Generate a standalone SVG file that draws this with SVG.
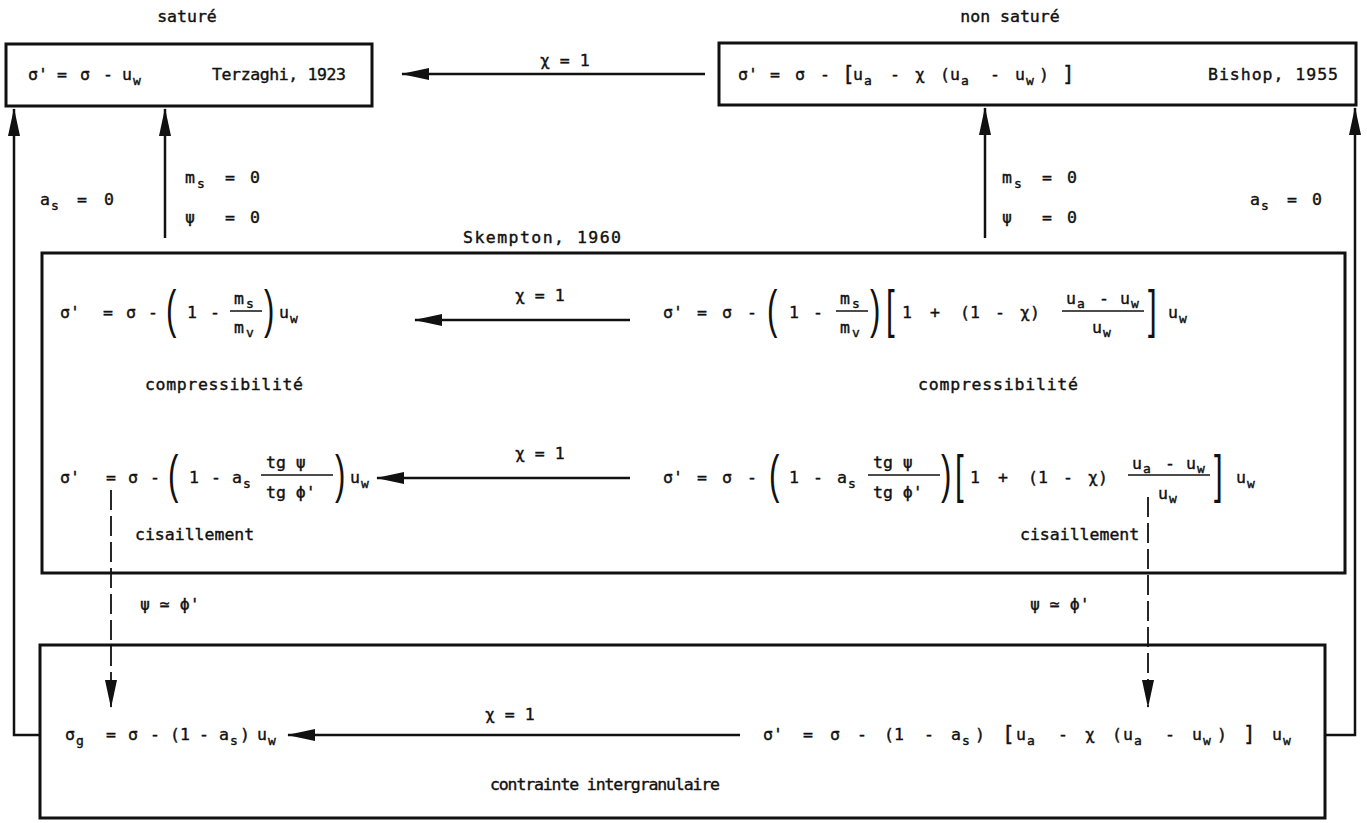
<svg xmlns="http://www.w3.org/2000/svg" width="1367" height="823" viewBox="0 0 1367 823">
<defs>
<style>
.t{font-family:"DejaVu Sans Mono","Liberation Mono",monospace;font-size:16.5px;fill:#111;stroke:#111;stroke-width:0.4}
.sb{font-size:13px}
.big{font-family:"Liberation Sans","DejaVu Sans",sans-serif;font-size:52px;fill:#111}
.br{font-size:21px}
.box{fill:none;stroke:#111;stroke-width:3}
.ln{fill:none;stroke:#111;stroke-width:2.5}
.ds{fill:none;stroke:#111;stroke-width:1.8;stroke-dasharray:20 6}
.bar{stroke:#111;stroke-width:1.5}
</style>
<marker id="ah" viewBox="0 0 28 12" refX="27" refY="6" markerWidth="28" markerHeight="12" markerUnits="userSpaceOnUse" orient="auto"><path d="M0,0 L28,6 L0,12 Z" fill="#111"/></marker>
</defs>
<rect width="1367" height="823" fill="#fff"/>

<g id="titles">
<text class="t" x="187" y="22" text-anchor="middle">saturé</text>
<text class="t" x="1010" y="22" text-anchor="middle">non saturé</text>
</g>

<g id="terzaghi">
<rect class="box" x="6" y="44" width="366" height="62"/>
<text class="t"><tspan x="28" y="80">σ'</tspan><tspan x="57" y="80">=</tspan><tspan x="80" y="80">σ</tspan><tspan x="103" y="80">-</tspan><tspan x="122" y="80">u</tspan><tspan class="sb" x="133" y="85">w</tspan></text>
<text class="t" x="212" y="80" textLength="134" lengthAdjust="spacing">Terzaghi, 1923</text>
</g>

<g id="bishop">
<rect class="box" x="719" y="43" width="637" height="62"/>
<text class="t"><tspan x="738" y="80">σ'</tspan><tspan x="770" y="80">=</tspan><tspan x="795" y="80">σ</tspan><tspan x="820" y="80">-</tspan><tspan class="br" x="842" y="81">[</tspan><tspan x="853" y="80">u</tspan><tspan class="sb" x="864" y="85">a</tspan><tspan x="890" y="80">-</tspan><tspan x="915" y="80">χ</tspan><tspan x="940" y="80">(</tspan><tspan x="950" y="80">u</tspan><tspan class="sb" x="961" y="85">a</tspan><tspan x="990" y="80">-</tspan><tspan x="1015" y="80">u</tspan><tspan class="sb" x="1026" y="85">w</tspan><tspan x="1039" y="80">)</tspan><tspan class="br" x="1062" y="81">]</tspan></text>
<text class="t" x="1208" y="80" textLength="130" lengthAdjust="spacing">Bishop, 1955</text>
</g>

<g id="connectors">
<path class="ln" d="M705,74 H402" marker-end="url(#ah)"/>
<path class="ln" d="M40,735 H14 V109" marker-end="url(#ah)"/>
<path class="ln" d="M165,238 V109" marker-end="url(#ah)"/>
<path class="ln" d="M985,238 V108" marker-end="url(#ah)"/>
<path class="ln" d="M1325,735 H1355 V108" marker-end="url(#ah)"/>
<path class="ln" d="M630,320 H415" marker-end="url(#ah)"/>
<path class="ln" d="M630,478 H377" marker-end="url(#ah)"/>
<path class="ln" d="M740,735 H288" marker-end="url(#ah)"/>
<path class="ds" d="M111,490 V707" marker-end="url(#ah)"/>
<path class="ds" d="M1148,497 V707" marker-end="url(#ah)"/>
</g>

<g id="connector-labels">
<text class="t" x="540" y="66">χ = 1</text>
<text class="t" x="515" y="301">χ = 1</text>
<text class="t" x="515" y="459">χ = 1</text>
<text class="t" x="485" y="720">χ = 1</text>
<text class="t"><tspan x="40" y="205">a</tspan><tspan class="sb" x="51" y="210">s</tspan><tspan x="77" y="205">=</tspan><tspan x="104" y="205">0</tspan></text>
<text class="t"><tspan x="185" y="183">m</tspan><tspan class="sb" x="197" y="188">s</tspan><tspan x="225" y="183">=</tspan><tspan x="250" y="183">0</tspan></text>
<text class="t"><tspan x="185" y="223">ψ</tspan><tspan x="225" y="223">=</tspan><tspan x="250" y="223">0</tspan></text>
<text class="t"><tspan x="1002" y="183">m</tspan><tspan class="sb" x="1014" y="188">s</tspan><tspan x="1042" y="183">=</tspan><tspan x="1067" y="183">0</tspan></text>
<text class="t"><tspan x="1002" y="223">ψ</tspan><tspan x="1042" y="223">=</tspan><tspan x="1067" y="223">0</tspan></text>
<text class="t"><tspan x="1250" y="205">a</tspan><tspan class="sb" x="1261" y="210">s</tspan><tspan x="1287" y="205">=</tspan><tspan x="1312" y="205">0</tspan></text>
<text class="t" x="140" y="610">ψ ≃ ϕ'</text>
<text class="t" x="1030" y="610">ψ ≃ ϕ'</text>
</g>

<g id="skempton">
<text class="t" x="463" y="243" textLength="158" lengthAdjust="spacing">Skempton, 1960</text>
<rect class="box" x="42" y="253" width="1303" height="320"/>
<!-- row 1 left -->
<text class="t"><tspan x="60" y="318">σ'</tspan><tspan x="103" y="318">=</tspan><tspan x="126" y="318">σ</tspan><tspan x="148" y="318">-</tspan><tspan x="187" y="318">1</tspan><tspan x="210" y="318">-</tspan><tspan x="234" y="304">m</tspan><tspan class="sb" x="246" y="308">s</tspan><tspan x="234" y="333">m</tspan><tspan class="sb" x="246" y="337">v</tspan><tspan x="279" y="318">u</tspan><tspan class="sb" x="290" y="323">w</tspan></text>
<line class="bar" x1="230" y1="311" x2="262" y2="311"/>
<text class="big" transform="translate(166,327) scale(0.6,1)">(</text><text class="big" transform="translate(264,327) scale(0.6,1)">)</text>
<text class="t" x="145" y="390" textLength="158" lengthAdjust="spacing">compressibilité</text>
<!-- row 1 right -->
<text class="t"><tspan x="663" y="318">σ'</tspan><tspan x="697" y="318">=</tspan><tspan x="722" y="318">σ</tspan><tspan x="747" y="318">-</tspan><tspan x="789" y="318">1</tspan><tspan x="813" y="318">-</tspan><tspan x="840" y="304">m</tspan><tspan class="sb" x="852" y="308">s</tspan><tspan x="840" y="333">m</tspan><tspan class="sb" x="852" y="337">v</tspan><tspan x="902" y="318">1</tspan><tspan x="930" y="318">+</tspan><tspan x="960" y="318">(1</tspan><tspan x="995" y="318">-</tspan><tspan x="1020" y="318">χ)</tspan><tspan x="1066" y="304">u</tspan><tspan class="sb" x="1077" y="308">a</tspan><tspan x="1099" y="304">-</tspan><tspan x="1120" y="304">u</tspan><tspan class="sb" x="1131" y="308">w</tspan><tspan x="1092" y="333">u</tspan><tspan class="sb" x="1103" y="337">w</tspan><tspan x="1168" y="318">u</tspan><tspan class="sb" x="1179" y="323">w</tspan></text>
<line class="bar" x1="836" y1="311" x2="868" y2="311"/>
<line class="bar" x1="1062" y1="311" x2="1144" y2="311"/>
<text class="big" transform="translate(767,327) scale(0.6,1)">(</text><text class="big" transform="translate(870,327) scale(0.6,1)">)</text>
<text class="big" transform="translate(886,327) scale(0.6,1)">[</text><text class="big" transform="translate(1148,327) scale(0.6,1)">]</text>
<text class="t" x="918" y="390" textLength="160" lengthAdjust="spacing">compressibilité</text>
<!-- row 2 left -->
<text class="t"><tspan x="60" y="483">σ'</tspan><tspan x="106" y="483">=</tspan><tspan x="128" y="483">σ</tspan><tspan x="150" y="483">-</tspan><tspan x="189" y="483">1</tspan><tspan x="211" y="483">-</tspan><tspan x="232" y="483">a</tspan><tspan class="sb" x="243" y="488">s</tspan><tspan x="266" y="468">tg ψ</tspan><tspan x="266" y="498">tg ϕ'</tspan><tspan x="350" y="483">u</tspan><tspan class="sb" x="361" y="488">w</tspan></text>
<line class="bar" x1="261" y1="475" x2="333" y2="475"/>
<text class="big" transform="translate(168,492) scale(0.6,1)">(</text><text class="big" transform="translate(335,492) scale(0.6,1)">)</text>
<text class="t" x="135" y="540">cisaillement</text>
<!-- row 2 right -->
<text class="t"><tspan x="663" y="483">σ'</tspan><tspan x="697" y="483">=</tspan><tspan x="722" y="483">σ</tspan><tspan x="747" y="483">-</tspan><tspan x="789" y="483">1</tspan><tspan x="813" y="483">-</tspan><tspan x="837" y="483">a</tspan><tspan class="sb" x="848" y="488">s</tspan><tspan x="873" y="468">tg ψ</tspan><tspan x="873" y="498">tg ϕ'</tspan><tspan x="970" y="483">1</tspan><tspan x="998" y="483">+</tspan><tspan x="1028" y="483">(1</tspan><tspan x="1063" y="483">-</tspan><tspan x="1088" y="483">χ)</tspan><tspan x="1132" y="469">u</tspan><tspan class="sb" x="1143" y="473">a</tspan><tspan x="1165" y="469">-</tspan><tspan x="1186" y="469">u</tspan><tspan class="sb" x="1197" y="473">w</tspan><tspan x="1158" y="499">u</tspan><tspan class="sb" x="1169" y="503">w</tspan><tspan x="1236" y="483">u</tspan><tspan class="sb" x="1247" y="488">w</tspan></text>
<line class="bar" x1="868" y1="475" x2="940" y2="475"/>
<line class="bar" x1="1128" y1="475" x2="1210" y2="475"/>
<text class="big" transform="translate(769,492) scale(0.6,1)">(</text><text class="big" transform="translate(941,492) scale(0.6,1)">)</text>
<text class="big" transform="translate(955,492) scale(0.6,1)">[</text><text class="big" transform="translate(1214,492) scale(0.6,1)">]</text>
<text class="t" x="1020" y="540">cisaillement</text>
</g>

<g id="intergranulaire">
<rect class="box" x="40" y="645" width="1285" height="173"/>
<text class="t"><tspan x="65" y="740">σ</tspan><tspan class="sb" x="76" y="745">g</tspan><tspan x="106" y="740">=</tspan><tspan x="128" y="740">σ</tspan><tspan x="150" y="740">-</tspan><tspan x="170" y="740">(1</tspan><tspan x="199" y="740">-</tspan><tspan x="219" y="740">a</tspan><tspan class="sb" x="230" y="745">s</tspan><tspan x="240" y="740">)</tspan><tspan x="257" y="740">u</tspan><tspan class="sb" x="268" y="745">w</tspan></text>
<text class="t"><tspan x="763" y="740">σ'</tspan><tspan x="803" y="740">=</tspan><tspan x="830" y="740">σ</tspan><tspan x="857" y="740">-</tspan><tspan x="884" y="740">(1</tspan><tspan x="924" y="740">-</tspan><tspan x="951" y="740">a</tspan><tspan class="sb" x="962" y="745">s</tspan><tspan x="975" y="740">)</tspan><tspan class="br" x="1002" y="741">[</tspan><tspan x="1016" y="740">u</tspan><tspan class="sb" x="1027" y="745">a</tspan><tspan x="1058" y="740">-</tspan><tspan x="1085" y="740">χ</tspan><tspan x="1112" y="740">(</tspan><tspan x="1123" y="740">u</tspan><tspan class="sb" x="1134" y="745">a</tspan><tspan x="1165" y="740">-</tspan><tspan x="1192" y="740">u</tspan><tspan class="sb" x="1203" y="745">w</tspan><tspan x="1217" y="740">)</tspan><tspan class="br" x="1243" y="741">]</tspan><tspan x="1272" y="740">u</tspan><tspan class="sb" x="1283" y="745">w</tspan></text>
<text class="t" x="490" y="790" textLength="230" lengthAdjust="spacing">contrainte intergranulaire</text>
</g>
</svg>
